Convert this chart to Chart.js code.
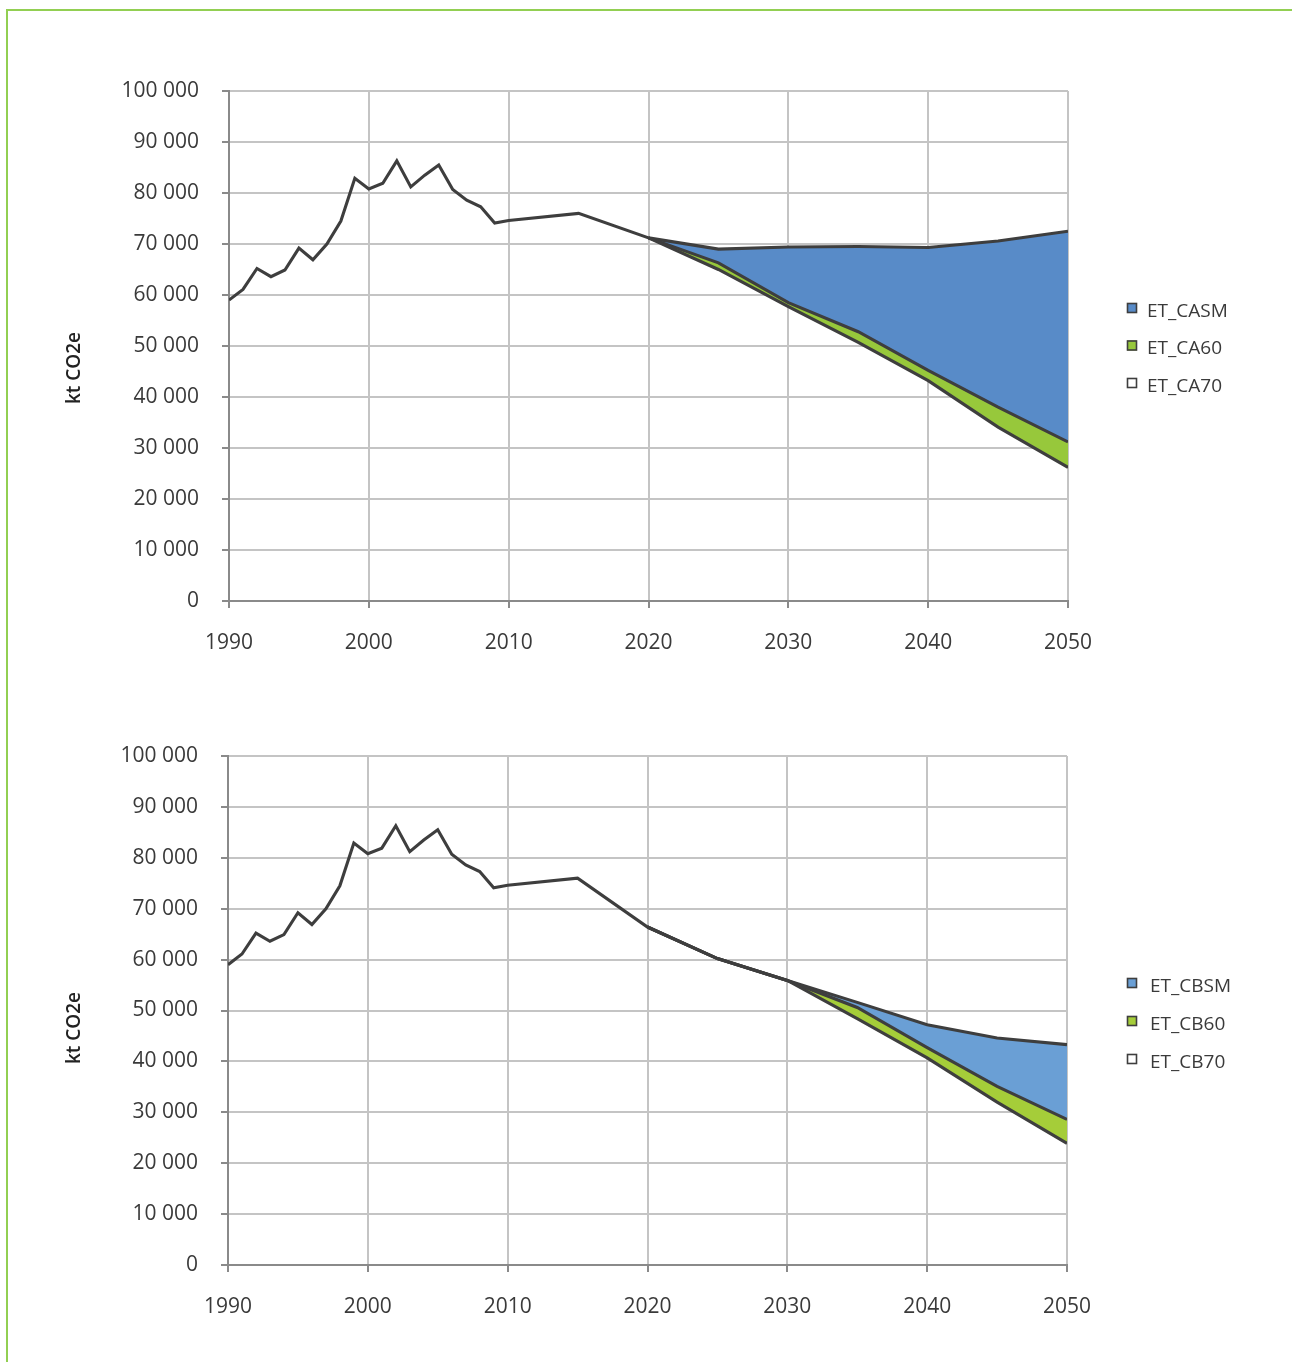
<!DOCTYPE html>
<html>
<head>
<meta charset="utf-8">
<script src="https://cdn.jsdelivr.net/npm/chart.js@4.4.1/dist/chart.umd.min.js"></script>
<style>
  html, body { margin: 0; padding: 0; background: #ffffff; }
  #page { position: relative; width: 1292px; height: 1362px; overflow: hidden; }
  #frame {
    position: absolute; left: 6px; top: 9px; width: 1284px; height: 1360px;
    border-top: 2px solid #92cf52; border-left: 2px solid #92cf52; border-right: 1px solid #efeee0;
  }
  canvas { position: absolute; left: 0; }
  #c1 { top: 0; }
  #c2 { top: 680px; }
</style>
</head>
<body>
<div id="page">
  <div id="frame"></div>
  <canvas id="c1" width="1292" height="680"></canvas>
  <canvas id="c2" width="1292" height="682"></canvas>
</div>
<script>
// Inventory years (shared history for both scenario families)
const historyYears = [1990, 1991, 1992, 1993, 1994, 1995, 1996, 1997, 1998, 1999, 2000,
                      2001, 2002, 2003, 2004, 2005, 2006, 2007, 2008, 2009, 2010, 2015];
const historyValues = [59000, 61100, 65200, 63600, 64900, 69200, 66900, 70000, 74500, 82900, 80800,
                       81900, 86300, 81200, 83500, 85500, 80700, 78600, 77300, 74100, 74600, 76000];

// Projection years
const scenarioYears = [2020, 2025, 2030, 2035, 2040, 2045, 2050];

// Family A scenarios (kt CO2e)
const etCASM = [71200, 69000, 69400, 69500, 69300, 70600, 72500];
const etCA60 = [71200, 66300, 58500, 52800, 45200, 38000, 31200];
const etCA70 = [71200, 65000, 57700, 50700, 43200, 34100, 26200];

// Family B scenarios (kt CO2e)
const etCBSM = [66400, 60200, 55900, 51600, 47200, 44600, 43300];
const etCB60 = [66400, 60200, 55900, 50600, 42700, 35100, 28600];
const etCB70 = [66400, 60200, 55900, 48400, 40700, 32000, 23900];

const seriesNamesA = ['ET_CASM', 'ET_CA60', 'ET_CA70'];
const seriesNamesB = ['ET_CBSM', 'ET_CB60', 'ET_CB70'];

const yAxisTitle = 'kt CO2e';
const xTickValues = [1990, 2000, 2010, 2020, 2030, 2040, 2050];

function toPoints(xs, ys) {
  return xs.map((x, i) => ({ x: x, y: ys[i] }));
}

function spaced(v) {
  return String(v).replace(/\B(?=(\d{3})+(?!\d))/g, ' ');
}

const LINE = '#3e3e3e';
const TEXT = '#3a3a3a';

// Rotated axis caption placed beside the value axis
const axisCaption = {
  id: 'axisCaption',
  afterDraw(chart, args, opts) {
    const ctx = chart.ctx;
    ctx.save();
    ctx.translate(opts.x, opts.y);
    ctx.rotate(-Math.PI / 2);
    ctx.font = '600 19px "Open Sans"';
    ctx.fillStyle = '#222222';
    ctx.textAlign = 'center';
    ctx.textBaseline = 'middle';
    ctx.fillText(opts.text, 0, 0);
    ctx.restore();
  }
};

// Legend at the right: top entry is the last dataset
const sideLegend = {
  id: 'sideLegend',
  afterDraw(chart, args, opts) {
    const ctx = chart.ctx;
    const sets = chart.data.datasets.slice().reverse();
    ctx.save();
    sets.forEach((ds, i) => {
      const cy = opts.y + i * opts.gap;
      ctx.fillStyle = ds.legendFill;
      ctx.fillRect(opts.x, cy - 5, 10, 10);
      ctx.strokeStyle = LINE;
      ctx.lineWidth = 1.6;
      ctx.strokeRect(opts.x + 0.5, cy - 4.5, 9, 9);
      ctx.font = '19px "Open Sans"';
      ctx.fillStyle = TEXT;
      ctx.textAlign = 'left';
      ctx.textBaseline = 'alphabetic';
      ctx.fillText(ds.label, opts.textX, cy + 8.5);
    });
    ctx.restore();
  }
};

function makeChart(id, names, sm, s60, s70, colors, geo) {
  const base = toPoints(historyYears, historyValues).concat(toPoints(scenarioYears, s70));
  const datasets = [
    {
      label: names[2], data: base, legendFill: '#ffffff',
      borderColor: LINE, borderWidth: 3.1, fill: false, pointRadius: 0, tension: 0
    },
    {
      label: names[1], data: toPoints(scenarioYears, s60), legendFill: colors.green,
      borderColor: LINE, borderWidth: 3.1, backgroundColor: colors.green, fill: '-1',
      pointRadius: 0, tension: 0
    },
    {
      label: names[0], data: toPoints(scenarioYears, sm), legendFill: colors.blue,
      borderColor: LINE, borderWidth: 3.1, backgroundColor: colors.blue, fill: '-1',
      pointRadius: 0, tension: 0
    }
  ];

  return new Chart(document.getElementById(id), {
    type: 'line',
    data: { datasets: datasets },
    plugins: [axisCaption, sideLegend],
    options: {
      responsive: false,
      animation: false,
      devicePixelRatio: 1,
      layout: { padding: { left: 0, top: geo.top, right: geo.right, bottom: 0 } },
      plugins: {
        legend: { display: false },
        tooltip: { enabled: false },
        axisCaption: { text: yAxisTitle, x: 75, y: geo.captionY },
        sideLegend: { x: 1127, y: geo.legendY, gap: geo.legendGap, textX: geo.legendTextX }
      },
      scales: {
        x: {
          type: 'linear', min: 1990, max: 2050,
          afterBuildTicks(scale) { scale.ticks = xTickValues.map(v => ({ value: v })); },
          afterFit(scale) { scale.height = geo.xHeight; },
          grid: { color: '#c4c4c4', lineWidth: 2, tickLength: 7, tickColor: '#8a8a8a', drawOnChartArea: true },
          border: { color: '#8a8a8a', width: 2 },
          ticks: { color: TEXT, font: { family: 'Open Sans', size: 21 }, padding: 22, maxRotation: 0,
                   callback: v => String(v) }
        },
        y: {
          min: 0, max: 100000,
          afterFit(scale) { scale.width = geo.yWidth; },
          grid: { color: '#c4c4c4', lineWidth: 2, tickLength: 7, tickColor: '#8a8a8a' },
          border: { color: '#8a8a8a', width: 2 },
          ticks: { stepSize: 10000, color: TEXT, font: { family: 'Open Sans', size: 21 }, padding: 23,
                   callback: v => spaced(v) }
        }
      }
    }
  });
}

makeChart('c1', seriesNamesA, etCASM, etCA60, etCA70,
  { blue: '#588bc8', green: '#97c83b' },
  { top: 91, right: 224, yWidth: 229, xHeight: 79, captionY: 368,
    legendY: 308, legendGap: 37.5, legendTextX: 1147 });

makeChart('c2', seriesNamesB, etCBSM, etCB60, etCB70,
  { blue: '#6a9fd5', green: '#a5cd39' },
  { top: 76, right: 225, yWidth: 228, xHeight: 97, captionY: 348,
    legendY: 303, legendGap: 38, legendTextX: 1150 });
</script>
</body>
</html>
